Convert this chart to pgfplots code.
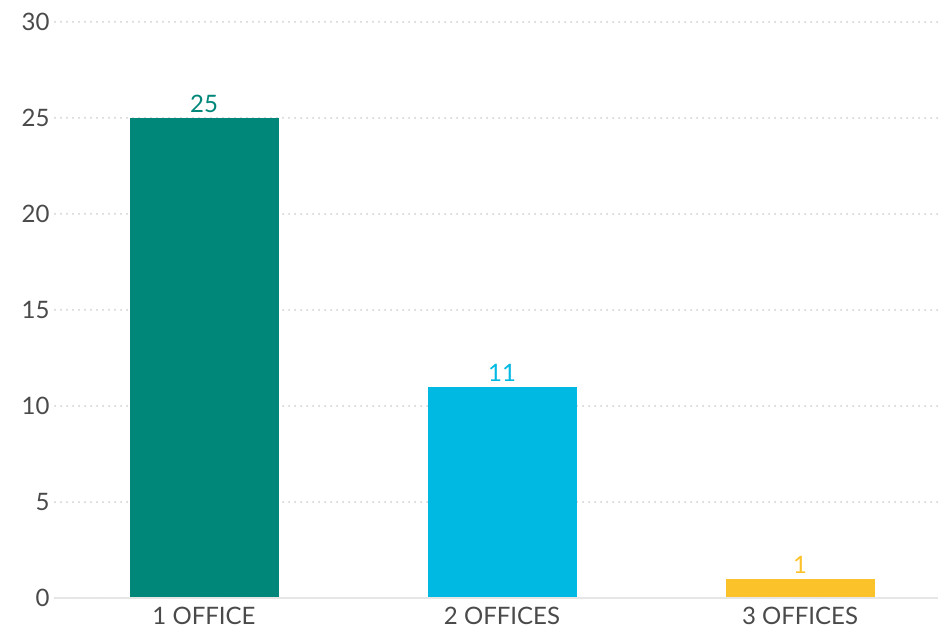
\documentclass[border=0pt]{standalone}
\usepackage{pgfplots}
\pgfplotsset{compat=1.18}
\usepackage{fontspec}
\setmainfont{Lato}
\definecolor{tealc}{HTML}{00877A}
\definecolor{cyanc}{HTML}{00B9E3}
\definecolor{yelc}{HTML}{FCC229}
\definecolor{txt}{HTML}{4A4A4A}
\definecolor{gridc}{HTML}{CFCFCF}
\definecolor{basec}{HTML}{E6E6E6}
\begin{document}
\begin{tikzpicture}[x=1pt,y=1pt]
\begin{axis}[
  at={(55pt,35pt)}, anchor=south west,
  scale only axis, width=883pt, height=576pt,
  xmin=-0.5, xmax=2.463, ymin=0, ymax=30,
  axis line style={draw=none},
  ytick={0,5,...,30},
  xtick={0,1,2},
  xticklabels={1 OFFICE,2 OFFICES,3 OFFICES},
  tick style={draw=none},
  ymajorgrids,
  grid style={gridc, line width=2pt, dash pattern=on 0pt off 6pt, line cap=round},
  axis on top=false,
  /pgf/number format/assume math mode=true,
  tick label style={font=\fontsize{24}{28}\selectfont, text=txt},
  yticklabel style={xshift=-2pt},
  xticklabel style={yshift=-4pt, inner sep=1pt},
  ybar, bar width=149pt, bar shift=0pt,
  nodes near coords,
  nodes near coords style={font=\fontsize{24}{28}\selectfont, anchor=south, yshift=2pt},
  clip=false,
]
\addplot[fill=tealc, draw=none, nodes near coords style={text=tealc}] coordinates {(0,25)};
\addplot[fill=cyanc, draw=none, nodes near coords style={text=cyanc}] coordinates {(1,11)};
\addplot[fill=yelc, draw=none, nodes near coords style={text=yelc}] coordinates {(2,1)};
\draw[basec, line width=2pt] (axis cs:-0.5,0) -- (axis cs:2.463,0);
\end{axis}
\pgfresetboundingbox
\path[use as bounding box] (0,0) rectangle (938pt,633pt);
\end{tikzpicture}
\end{document}
